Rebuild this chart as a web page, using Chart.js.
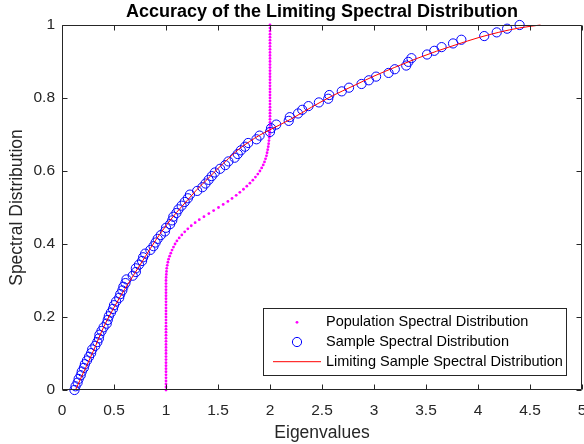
<!DOCTYPE html>
<html>
<head>
<meta charset="utf-8">
<script src="https://cdn.jsdelivr.net/npm/chart.js@4"></script>
<style>
  html, body { margin: 0; padding: 0; background: #fff; }
  canvas { display: block; }
</style>
</head>
<body>
<canvas id="lsdChart" width="584" height="444"></canvas>
<script>
const AXIS_COLOR = '#262626';
const FONT = '"Liberation Sans", Arial, Helvetica, sans-serif';
const TITLE = 'Accuracy of the Limiting Spectral Distribution';

// tick positions on both axes
const xTicks = [0, 0.5, 1, 1.5, 2, 2.5, 3, 3.5, 4, 4.5, 5];
const yTicks = [0, 0.2, 0.4, 0.6, 0.8, 1];

// population eigenvalues, sorted
const popEigenvalues = [
  1, 1, 1, 1, 1, 1, 1, 1, 1, 1,
  1, 1, 1, 1, 1, 1, 1, 1, 1, 1,
  1, 1, 1, 1, 1, 1, 1, 1, 1, 1,
  1, 1, 1, 1, 1, 1, 1, 1.001, 1.003, 1.005,
  1.007, 1.012, 1.018, 1.025, 1.035, 1.046, 1.058, 1.072, 1.087, 1.105,
  1.127, 1.152, 1.180, 1.210, 1.243, 1.280, 1.320, 1.365, 1.412, 1.458,
  1.505, 1.550, 1.595, 1.635, 1.675, 1.710, 1.745, 1.777, 1.807, 1.835,
  1.860, 1.883, 1.903, 1.920, 1.935, 1.947, 1.957, 1.966, 1.972, 1.978,
  1.983, 1.987, 1.990, 1.993, 1.995, 1.997, 1.998, 1.999, 2, 2,
  2, 2, 2, 2, 2, 2, 2, 2, 2, 2,
  2, 2, 2, 2, 2, 2, 2, 2, 2, 2,
  2, 2, 2, 2, 2, 2, 2, 2, 2, 2, 2
];

// sample covariance eigenvalues, sorted
const sampleEigenvalues = [
  0.12, 0.13, 0.15, 0.16, 0.18, 0.19, 0.21, 0.22, 0.24, 0.26,
  0.28, 0.29, 0.32, 0.34, 0.355, 0.36, 0.38, 0.40, 0.43, 0.44,
  0.45, 0.47, 0.49, 0.50, 0.52, 0.55, 0.56, 0.58, 0.59, 0.61,
  0.62, 0.68, 0.71, 0.71, 0.74, 0.77, 0.78, 0.80, 0.85, 0.88,
  0.90, 0.92, 0.95, 0.99, 1.00, 1.04, 1.06, 1.07, 1.10, 1.12,
  1.15, 1.18, 1.21, 1.23, 1.30, 1.35, 1.38, 1.41, 1.44, 1.47,
  1.52, 1.57, 1.60, 1.66, 1.69, 1.72, 1.76, 1.79, 1.87, 1.90,
  2.00, 2.01, 2.06, 2.18, 2.19, 2.27, 2.31, 2.37, 2.47, 2.56,
  2.57, 2.69, 2.76, 2.88, 2.95, 3.02, 3.14, 3.20, 3.31, 3.33,
  3.36, 3.51, 3.58, 3.65, 3.76, 3.84, 4.06, 4.18, 4.28, 4.40
];

// limiting sample spectral distribution (curve)
const lsdX = [0.13, 0.2, 0.3, 0.4, 0.5, 0.6, 0.7, 0.8, 0.9, 1.0, 1.1, 1.2, 1.3, 1.4, 1.5, 1.6, 1.7,
  1.8, 1.9, 2.0, 2.2, 2.4, 2.6, 2.8, 3.0, 3.2, 3.4, 3.6, 3.8, 4.0, 4.2, 4.4, 4.6];
const lsdY = [0, 0.044, 0.106, 0.172, 0.226, 0.275, 0.32, 0.365, 0.41, 0.45, 0.486, 0.518, 0.55, 0.578, 0.607, 0.634, 0.66,
  0.68, 0.698, 0.713, 0.742, 0.775, 0.806, 0.833, 0.860, 0.884, 0.907, 0.928, 0.947, 0.965, 0.980, 0.992, 1.0];

// empirical spectral distribution: sorted eigenvalue vs. fraction of eigenvalues below it
function esd(values) {
  const n = values.length;
  return values.map((v, i) => ({ x: v, y: i / (n - 1) }));
}

// let end tick labels hang past the axes instead of shrinking the plot
const noLabelOverflow = () => ({ left: 0, top: 0, right: 0, bottom: 0 });

// title centred over the axes rather than the whole canvas
const axesTitle = {
  id: 'axesTitle',
  afterDraw(chart) {
    const { ctx, chartArea: a } = chart;
    ctx.save();
    ctx.font = 'bold 18px ' + FONT;
    ctx.fillStyle = '#000';
    ctx.textAlign = 'center';
    ctx.textBaseline = 'middle';
    ctx.fillText(TITLE, (a.left + a.right) / 2, a.top - 12.5);
    ctx.restore();
  }
};

// MATLAB-style box with inward ticks on all four sides
const axesBox = {
  id: 'axesBox',
  afterDatasetsDraw(chart) {
    const { ctx, chartArea: a, scales: { x, y } } = chart;
    const L = Math.round(a.left) + 0.5, R = Math.round(a.right) - 0.5;
    const T = Math.round(a.top) + 0.5, B = Math.round(a.bottom) - 0.5;
    const len = 5;
    ctx.save();
    ctx.strokeStyle = AXIS_COLOR;
    ctx.lineWidth = 1;
    ctx.beginPath();
    ctx.rect(L, T, R - L, B - T);
    x.ticks.forEach(t => {
      const px = Math.round(x.getPixelForValue(t.value)) + 0.5;
      ctx.moveTo(px, B); ctx.lineTo(px, B - len);
      ctx.moveTo(px, T); ctx.lineTo(px, T + len);
    });
    y.ticks.forEach(t => {
      const py = Math.round(y.getPixelForValue(t.value)) + 0.5;
      ctx.moveTo(L, py); ctx.lineTo(L + len, py);
      ctx.moveTo(R, py); ctx.lineTo(R - len, py);
    });
    ctx.stroke();
    ctx.restore();
  }
};

// boxed legend in the lower right corner of the axes
const boxLegend = {
  id: 'boxLegend',
  afterDraw(chart) {
    const { ctx, chartArea: a } = chart;
    const w = 303, h = 67;
    const left = a.right - 16 - w, top = a.bottom - 15 - h;
    ctx.save();
    ctx.fillStyle = '#fff';
    ctx.fillRect(left, top, w, h);
    ctx.strokeStyle = AXIS_COLOR;
    ctx.lineWidth = 1;
    ctx.strokeRect(Math.round(left) + 0.5, Math.round(top) + 0.5, w, h);
    ctx.font = '14.5px ' + FONT;
    ctx.textBaseline = 'middle';
    ctx.textAlign = 'left';
    chart.data.datasets.forEach((ds, i) => {
      const cy = top + 14.3 + i * 19.7;
      const cx = left + 34;
      if (ds.showLine) {
        ctx.strokeStyle = ds.borderColor;
        ctx.lineWidth = ds.borderWidth;
        ctx.beginPath();
        ctx.moveTo(left + 10, cy);
        ctx.lineTo(left + 58, cy);
        ctx.stroke();
      } else if (ds.pointBorderWidth > 0) {
        ctx.strokeStyle = ds.pointBorderColor;
        ctx.lineWidth = ds.pointBorderWidth;
        ctx.beginPath();
        ctx.arc(cx, cy, ds.pointRadius, 0, Math.PI * 2);
        ctx.stroke();
      } else {
        ctx.fillStyle = ds.pointBackgroundColor;
        ctx.beginPath();
        ctx.arc(cx, cy, ds.pointRadius, 0, Math.PI * 2);
        ctx.fill();
      }
      ctx.fillStyle = '#000';
      ctx.fillText(ds.label, left + 63, cy);
    });
    ctx.restore();
  }
};

const config = {
  type: 'scatter',
  data: {
    datasets: [
      {
        label: 'Population Spectral Distribution',
        data: esd(popEigenvalues),
        showLine: false,
        pointRadius: 1.4,
        pointBorderWidth: 0,
        pointBackgroundColor: '#ff00ff',
        pointBorderColor: '#ff00ff',
        clip: false,
        order: 2
      },
      {
        label: 'Sample Spectral Distribution',
        data: esd(sampleEigenvalues),
        showLine: false,
        pointRadius: 4.6,
        pointBorderWidth: 1,
        pointBackgroundColor: 'rgba(0,0,0,0)',
        pointBorderColor: '#0000ff',
        clip: false,
        order: 1
      },
      {
        label: 'Limiting Sample Spectral Distribution',
        data: lsdX.map((v, i) => ({ x: v, y: lsdY[i] })),
        showLine: true,
        borderColor: '#ff0000',
        borderWidth: 1,
        pointRadius: 0,
        cubicInterpolationMode: 'monotone',
        clip: false,
        order: 0
      }
    ]
  },
  options: {
    responsive: false,
    animation: false,
    devicePixelRatio: 1,
    layout: { autoPadding: false, padding: { left: 0, right: 2, top: 25, bottom: 0 } },
    scales: {
      x: {
        type: 'linear',
        min: 0,
        max: 5,
        grid: { display: false, drawTicks: false },
        border: { display: false },
        afterBuildTicks: scale => { scale.ticks = xTicks.map(v => ({ value: v })); },
        afterFit: scale => {
          scale.height = 54;
          scale.paddingLeft = 0;
          scale.paddingRight = 0;
          scale.getPadding = noLabelOverflow;
        },
        ticks: {
          padding: 11,
          maxRotation: 0,
          color: AXIS_COLOR,
          font: { family: FONT, size: 15.5 },
          callback: v => String(v)
        },
        title: {
          display: true,
          text: 'Eigenvalues',
          color: AXIS_COLOR,
          font: { family: FONT, size: 17.5 },
          padding: { top: 0, bottom: 0 }
        }
      },
      y: {
        type: 'linear',
        min: 0,
        max: 1,
        grid: { display: false, drawTicks: false },
        border: { display: false },
        afterBuildTicks: scale => { scale.ticks = yTicks.map(v => ({ value: v })); },
        afterFit: scale => {
          scale.width = 62;
          scale.paddingTop = 0;
          scale.paddingBottom = 0;
          scale.getPadding = noLabelOverflow;
        },
        ticks: {
          padding: 7,
          color: AXIS_COLOR,
          font: { family: FONT, size: 15.5 },
          callback: v => String(v)
        },
        title: {
          display: true,
          text: 'Spectral Distribution',
          color: AXIS_COLOR,
          font: { family: FONT, size: 17.5 },
          padding: { top: 7, bottom: 0 }
        }
      }
    },
    plugins: {
      legend: { display: false },
      tooltip: { enabled: false },
      title: { display: false }
    }
  },
  plugins: [axesBox, boxLegend, axesTitle]
};

const lsdChart = new Chart(document.querySelector('#lsdChart').getContext('2d'), config);
</script>
</body>
</html>
